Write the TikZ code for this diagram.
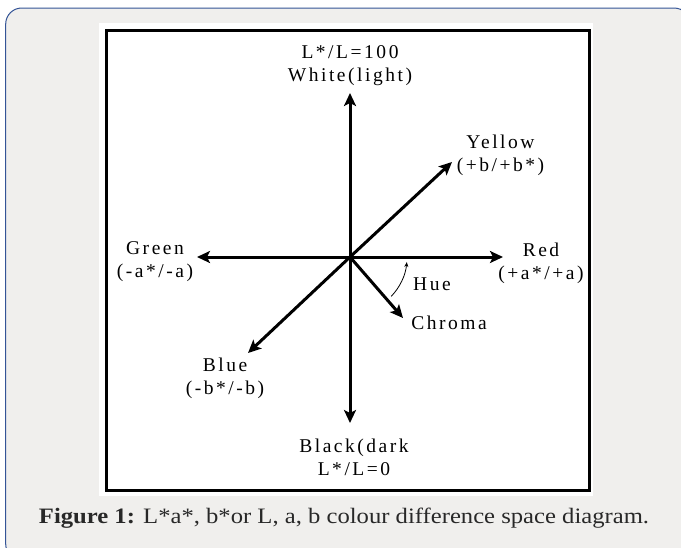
\documentclass[tikz,border=0pt]{standalone}
\usepackage{fontspec}
\setmainfont{Liberation Serif}
\newfontfamily\lblfont[LetterSpace=13]{Liberation Serif}
\newfontfamily\capfont[FakeStretch=1.12]{Liberation Serif}
\usetikzlibrary{arrows.meta}
\usepackage{xcolor}
\definecolor{panelgray}{RGB}{240,239,237}
\definecolor{panelblue}{RGB}{52,84,150}
\definecolor{captext}{RGB}{40,40,40}

\begin{document}
\begin{tikzpicture}[
  x=1pt, y=-1pt,
  lbl/.style={align=center, inner sep=0pt, font=\lblfont\fontsize{19.5}{23}\selectfont},
  axis/.style={-{Stealth[length=13pt, width=12pt, inset=3pt]}, line width=3pt},
  huearc/.style={-{Stealth[length=5pt, width=4pt]}, line width=0.8pt}
]
\useasboundingbox (0,0) rectangle (681,547);
\clip (0,0) rectangle (681,547);

% panel and frame
\draw[panelblue, fill=panelgray, line width=1pt, rounded corners=16pt] (5.7,8) rectangle (690,560);
\fill[white] (99,22.7) rectangle (593,496);
\draw[line width=3pt] (106.5,30) rectangle (589.5,490);

% axis ends
\coordinate (o) at (350,257);
\coordinate (ltop) at (350,93);
\coordinate (lbot) at (350,423);
\coordinate (aneg) at (197,257);
\coordinate (apos) at (503,257);
\coordinate (bpos) at (452,162);
\coordinate (bneg) at (248,353);
\coordinate (ctip) at (403,318);

\node[lbl] (white) at (350,66) {L*/L=100\\White(light)};
\node[lbl] (black) at (354,457.5) {Black(dark\\L*/L=0};
\node[lbl] (yellow) at (500.5,155.3) {Yellow\\(+b/+b*)};
\node[lbl] (green) at (155,262) {Green\\(-a*/-a)};
\node[lbl] (red) at (541,263.5) {Red\\(+a*/+a)};
\node[lbl] (blue) at (225,378.3) {Blue\\(-b*/-b)};
\node[lbl] (hue) at (432,284) {Hue};
\node[lbl] (chroma) at (449,323) {Chroma};

\draw[axis] (o) -- (ltop);
\draw[axis] (o) -- (lbot);
\draw[axis] (o) -- (aneg);
\draw[axis] (o) -- (apos);
\draw[axis] (o) -- (bpos);
\draw[axis] (o) -- (bneg);
\draw[axis] (o) -- (ctip);
\draw[huearc] (o) ++(43.6:57) arc[start angle=43.6, end angle=5, radius=57];

\node[font=\capfont\fontsize{22}{26}\selectfont, text=captext] (cap) at (344,518)
  {\textbf{Figure 1:} L*a*, b*or L, a, b colour difference space diagram.};
\end{tikzpicture}
\end{document}
